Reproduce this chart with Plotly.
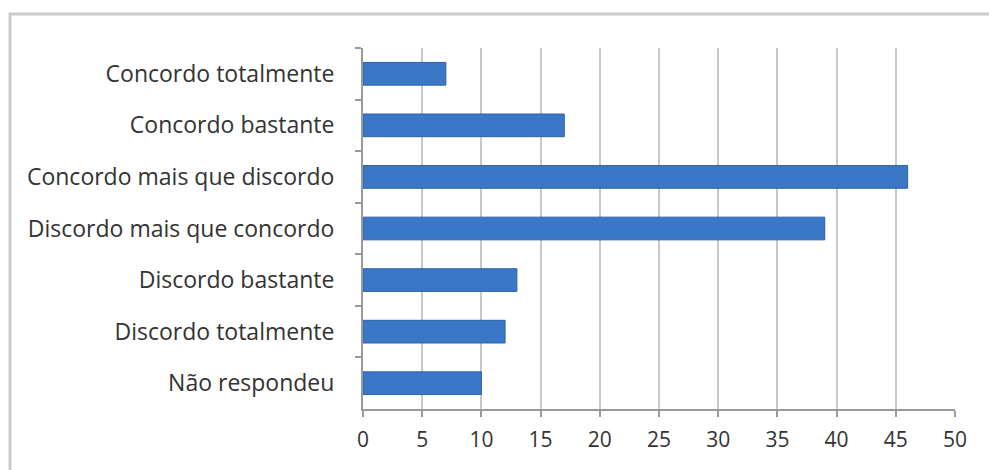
import plotly.graph_objects as go

# Survey responses (top to bottom)
categorias = [
    "Concordo totalmente",
    "Concordo bastante",
    "Concordo mais que discordo",
    "Discordo mais que concordo",
    "Discordo bastante",
    "Discordo totalmente",
    "Não respondeu",
]
respostas = [7, 17, 46, 39, 13, 12, 10]
x_ticks = [0, 5, 10, 15, 20, 25, 30, 35, 40, 45, 50]

W, H = 989, 470
ML, MR, MT, MB = 363, 34, 48, 61
pw = W - ML - MR
ph = H - MT - MB

fig = go.Figure(
    go.Bar(
        x=respostas,
        y=categorias,
        orientation="h",
        marker=dict(color="#3a77c6", line=dict(color="#2d62a8", width=1)),
        hoverinfo="x+y",
    )
)

# outer chart frame (extends past the right and bottom edges of the page)
fig.add_shape(
    type="rect", xref="paper", yref="paper",
    x0=(10 - ML) / pw, x1=1.3,
    y0=-0.5, y1=(ph + MT - 14) / ph,
    line=dict(color="#cbcbcb", width=3),
    fillcolor="rgba(0,0,0,0)", layer="below",
)

fig.update_layout(
    width=W, height=H,
    margin=dict(l=ML, r=MR, t=MT, b=MB),
    paper_bgcolor="white", plot_bgcolor="white",
    bargap=0.56,
    showlegend=False,
    font=dict(family="Open Sans, Lato, sans-serif", color="#333333"),
)

fig.update_xaxes(
    range=[0, 50],
    tickvals=x_ticks,
    ticktext=[str(v) for v in x_ticks],
    showgrid=True, gridcolor="#c8c8c8", gridwidth=2,
    zeroline=False,
    showline=True, linecolor="#9a9a9a", linewidth=2,
    ticks="outside", ticklen=6, tickcolor="#9a9a9a", tickwidth=2,
    tickfont=dict(size=21, color="#333333"),
    ticklabelstandoff=5,
    fixedrange=True,
)
fig.update_yaxes(
    categoryorder="array", categoryarray=categorias,
    autorange="reversed",
    showgrid=False,
    showline=True, linecolor="#9a9a9a", linewidth=2,
    ticks="outside", tickson="boundaries", ticklen=6,
    tickcolor="#9a9a9a", tickwidth=2,
    tickfont=dict(size=23, color="#333333"),
    ticklabelstandoff=22,
    fixedrange=True,
)

fig.write_html("out.html")
